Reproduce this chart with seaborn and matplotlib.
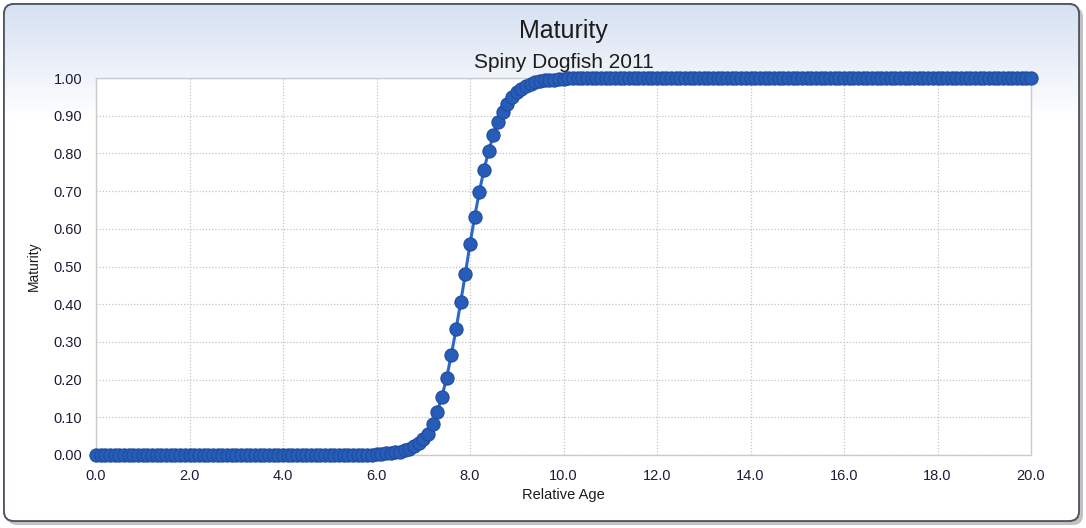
import numpy as np
import seaborn as sns
import matplotlib.pyplot as plt
from matplotlib.patches import FancyBboxPatch
from matplotlib.ticker import MultipleLocator, FormatStrFormatter

# relative age, step 0.1 from 0 to 20
ages = np.round(np.arange(0, 201) * 0.1, 1)

# maturity
mat_low = [0.0] * 60                      # 0.0 .. 5.9
mat_rise = [0.002, 0.003, 0.004, 0.005, 0.007, 0.009, 0.012, 0.017, 0.023, 0.031,   # 6.0 .. 6.9
            0.042, 0.057, 0.082, 0.115, 0.155, 0.205, 0.265, 0.333, 0.405, 0.480,   # 7.0 .. 7.9
            0.560, 0.632, 0.698, 0.757, 0.807, 0.848, 0.882, 0.910, 0.932, 0.949,   # 8.0 .. 8.9
            0.962, 0.972, 0.979, 0.985, 0.989, 0.992, 0.994, 0.995, 0.996, 0.997,   # 9.0 .. 9.9
            0.998]                                                                  # 10.0
mat_high = [1.0] * 100                    # 10.1 .. 20.0
maturity = mat_low + mat_rise + mat_high

title = "Maturity"
subtitle = "Spiny Dogfish 2011"
xlabel = "Relative Age"
ylabel = "Maturity"

sns.set_style("white")
plt.rcParams['font.family'] = ['Liberation Sans', 'DejaVu Sans']

fig = plt.figure(figsize=(10.86, 5.28), dpi=100)

# background panel with gradient
bg = fig.add_axes([0, 0, 1, 1], zorder=-10)
bg.set_xlim(0, 1086)
bg.set_ylim(528, 0)
bg.axis('off')
shadow = FancyBboxPatch((7, 7), 1076, 518, boxstyle="round,pad=0,rounding_size=10",
                        fc='#9a9a9a', ec='none', alpha=0.6)
bg.add_patch(shadow)
frame = FancyBboxPatch((4, 4), 1075, 517, boxstyle="round,pad=0,rounding_size=10",
                       fc='white', ec='#4f5862', lw=1.3)
bg.add_patch(frame)
grad = np.linspace(0, 1, 512).reshape(-1, 1)
top = np.array([0.84, 0.88, 0.945])
cols = top + (np.array([1.0, 1.0, 1.0]) - top) * np.clip(grad / 0.22, 0, 1)[..., None]
img = bg.imshow(cols, extent=[4, 1079, 521, 4], aspect='auto', zorder=1)
img.set_clip_path(frame)
frame2 = FancyBboxPatch((4, 4), 1075, 517, boxstyle="round,pad=0,rounding_size=10",
                        fc='none', ec='#4f5862', lw=1.3, zorder=2)
bg.add_patch(frame2)

ax = fig.add_axes([96 / 1086, 1 - 455 / 528, (1031 - 96) / 1086, (455 - 78) / 528])
ax.set_facecolor('white')

sns.lineplot(x=ages, y=maturity, ax=ax, color='#2c68c8', lw=2.2,
             marker='o', markersize=9.5, markerfacecolor='#275db8',
             markeredgecolor='#1f4c9c', markeredgewidth=0.8, clip_on=False, zorder=5)

ax.set_xlim(0, 20)
ax.set_ylim(0, 1)
ax.xaxis.set_major_locator(MultipleLocator(2))
ax.xaxis.set_minor_locator(MultipleLocator(1))
ax.yaxis.set_major_locator(MultipleLocator(0.1))
ax.yaxis.set_minor_locator(MultipleLocator(0.02))
ax.xaxis.set_major_formatter(FormatStrFormatter('%.1f'))
ax.yaxis.set_major_formatter(FormatStrFormatter('%.2f'))
ax.grid(True, which='major', color='#c4c4c4', ls=(0, (1, 1.5)), lw=0.9)

for s in ax.spines.values():
    s.set_color('#c8ccd2')
    s.set_linewidth(1.0)

ax.tick_params(axis='both', which='major', direction='out', length=6, width=0.8,
               color='#c8ccd2', labelsize=10.5, labelcolor='#1c1c3a', pad=4)
ax.tick_params(axis='both', which='minor', direction='out', length=3, width=0.8,
               color='#c8ccd2')
ax.tick_params(axis='y', which='minor', length=4)

ax.set_xlabel(xlabel, fontsize=10.5, color='#1c1c1c', labelpad=4)
ax.set_ylabel(ylabel, fontsize=10, color='#1c1c1c', labelpad=9)

fig.text(0.519, 1 - 31 / 528, title, ha='center', va='center', fontsize=18, color='#1c1c1c')
fig.text(0.519, 1 - 62 / 528, subtitle, ha='center', va='center', fontsize=15, color='#1c1c1c')

fig.savefig('out.png', dpi=100)
